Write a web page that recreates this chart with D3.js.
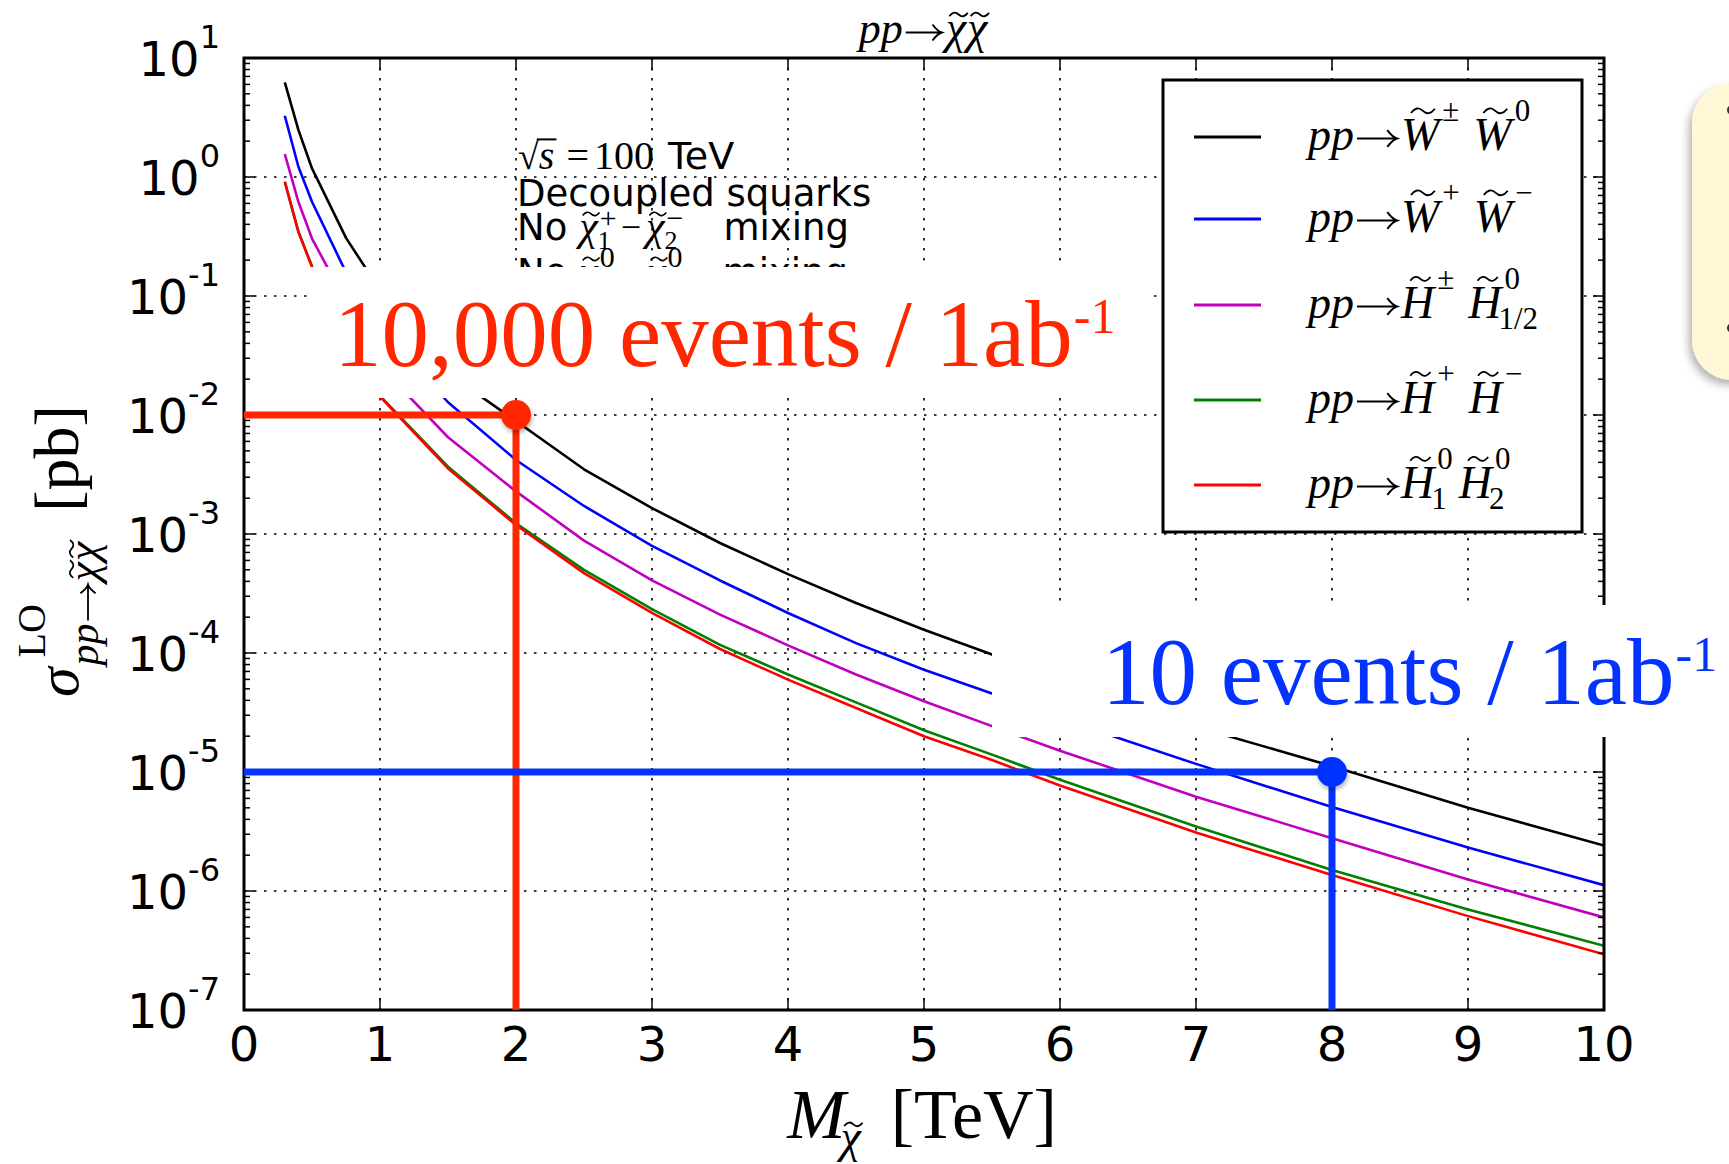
<!DOCTYPE html>
<html>
<head>
<meta charset="utf-8">
<script src="https://cdn.jsdelivr.net/npm/d3@7"></script>
<style>
  body { margin: 0; background: #fff; }
  text { white-space: pre; }
</style>
</head>
<body>
<div id="chart"></div>
<script>
// masses in TeV
const mass = [0.3, 0.4, 0.5, 0.75, 1, 1.5, 2, 2.5, 3, 3.5, 4, 4.5, 5, 5.5, 6, 7, 8, 9, 10];

// LO cross sections in pb
const winoPM0 = [6.24, 2.49, 1.18, 0.308, 0.112, 0.0224, 8.9e-3, 3.5e-3, 1.65e-3, 8.4e-4, 4.6e-4, 2.63e-4, 1.57e-4, 9.7e-5, 5.9e-5, 2.4e-5, 1.12e-5, 5.0e-6, 2.41e-6];
const winoPM = [3.27, 1.22, 0.619, 0.158, 0.056, 0.0128, 4.19e-3, 1.72e-3, 7.96e-4, 4.07e-4, 2.17e-4, 1.21e-4, 7.24e-5, 4.56e-5, 2.82e-5, 1.17e-5, 5.07e-6, 2.32e-6, 1.12e-6];
const higgsinoPM0 = [1.56, 0.619, 0.304, 0.089, 0.0257, 6.5e-3, 2.28e-3, 8.8e-4, 4.07e-4, 2.1e-4, 1.16e-4, 6.6e-5, 3.93e-5, 2.43e-5, 1.51e-5, 6.2e-6, 2.78e-6, 1.25e-6, 6.0e-7];
const higgsinoPM = [0.912, 0.347, 0.178, 0.0447, 0.0145, 3.68e-3, 1.23e-3, 5.0e-4, 2.34e-4, 1.17e-4, 6.6e-5, 3.85e-5, 2.24e-5, 1.4e-5, 8.6e-6, 3.48e-6, 1.5e-6, 7.0e-7, 3.46e-7];
const higgsino00 = [0.912, 0.346, 0.175, 0.0437, 0.0143, 3.56e-3, 1.19e-3, 4.69e-4, 2.17e-4, 1.08e-4, 5.97e-5, 3.45e-5, 2.0e-5, 1.26e-5, 7.7e-6, 3.1e-6, 1.36e-6, 6.15e-7, 2.94e-7];

const seriesColors = ["#000000", "#0000ff", "#bf00bf", "#008000", "#ff0000"];

// axis ticks
const xTicks = [0, 1, 2, 3, 4, 5, 6, 7, 8, 9, 10];
const yDecades = [1, 0, -1, -2, -3, -4, -5, -6, -7];
const yTickExp = ["1", "0", "-1", "-2", "-3", "-4", "-5", "-6", "-7"];

// event-count markers drawn over the plot
const markerMass = [2, 8];
const markerXsec = [1e-2, 1e-5];
const markerLabel = ["10,000 events / 1ab", "10 events / 1ab"];
const markerColor = ["#ff2600", "#0433ff"];

const W = 1729, H = 1164;
const SERIF = "'Liberation Serif', 'Times New Roman', serif";
const SANS = "'DejaVu Sans', sans-serif";

const svg = d3.select("#chart").append("svg")
    .attr("width", W).attr("height", H)
    .attr("viewBox", `0 0 ${W} ${H}`);

const defs = svg.append("defs");
defs.append("clipPath").attr("id", "plotclip")
    .append("rect").attr("x", 244).attr("y", 58).attr("width", 1360).attr("height", 952);
const sh = defs.append("filter").attr("id", "dotshadow")
    .attr("x", "-50%").attr("y", "-50%").attr("width", "200%").attr("height", "200%");
sh.append("feDropShadow").attr("dx", 1).attr("dy", 3).attr("stdDeviation", 2)
    .attr("flood-color", "#000").attr("flood-opacity", 0.3);
const boxShadow = defs.append("filter").attr("id", "boxshadow")
    .attr("x", "-20%").attr("y", "-20%").attr("width", "140%").attr("height", "140%");
boxShadow.append("feDropShadow").attr("dx", -3).attr("dy", 5).attr("stdDeviation", 4)
    .attr("flood-color", "#000").attr("flood-opacity", 0.3);

const x = d3.scaleLinear().domain([0, 10]).range([244, 1604]);
const y = d3.scaleLog().domain([1e-7, 10]).range([1010, 58]);

// small helper to lay out math-ish text: base glyphs, super/subscripts, tildes, arrows
function mathLine(parent, px, py, parts, anchor) {
    const g = parent.append("g");
    let baseEnd = 0, lastEnd = 0, maxEnd = 0;
    parts.forEach(p => {
        let sx;
        if (p.script) sx = baseEnd + (p.gap || 0);
        else if (p.cont) sx = lastEnd + (p.gap || 0);
        else sx = maxEnd + (p.gap || 0);
        const dy = p.dy || 0;
        const col = p.fill || "#000";
        let w;
        if (p.arrow) {
            // long thin math arrow, drawn as a path
            w = p.arrow;
            const ay = dy - p.sz * 0.25, e = sx + w - 1;
            g.append("path")
                .attr("d", `M${sx + 1},${ay} H${e} M${e - p.sz * 0.22},${ay - p.sz * 0.19} Q${e - p.sz * 0.1},${ay - p.sz * 0.03} ${e},${ay} Q${e - p.sz * 0.1},${ay + p.sz * 0.03} ${e - p.sz * 0.22},${ay + p.sz * 0.19}`)
                .attr("fill", "none").attr("stroke", col).attr("stroke-width", p.sz * 0.045);
        } else {
            const t = g.append("text")
                .attr("x", sx).attr("y", dy)
                .attr("font-family", p.ff || SERIF)
                .attr("font-style", p.it ? "italic" : "normal")
                .attr("font-size", p.sz)
                .attr("fill", col)
                .text(p.t);
            w = t.node().getComputedTextLength();
        }
        if (p.tilde) {
            const cx = sx + w / 2 + (p.it ? p.sz * 0.06 : 0);
            const cy = dy - p.sz * p.tilde;
            const a = p.sz * (p.tw || 0.22), h = a * 0.3;
            g.append("path")
                .attr("d", `M${cx - a},${cy + h * 0.6} Q${cx - a / 2},${cy - h * 1.6} ${cx},${cy} T${cx + a},${cy - h * 0.6}`)
                .attr("fill", "none").attr("stroke", col)
                .attr("stroke-width", p.sz * 0.04);
        }
        if (p.over) {
            g.append("line")
                .attr("x1", sx - p.sz * 0.05).attr("x2", sx + w + p.sz * 0.05)
                .attr("y1", dy - p.sz * 0.74).attr("y2", dy - p.sz * 0.74)
                .attr("stroke", col).attr("stroke-width", p.sz * 0.05);
        }
        if (!p.script && !p.cont) baseEnd = sx + w;
        lastEnd = sx + w;
        maxEnd = Math.max(maxEnd, sx + w);
    });
    const shift = anchor === "middle" ? -maxEnd / 2 : anchor === "end" ? -maxEnd : 0;
    g.attr("transform", `translate(${px + shift},${py})`);
    return g;
}

// grid
const grid = svg.append("g");
xTicks.slice(1, -1).forEach(t => {
    grid.append("line")
        .attr("x1", x(t)).attr("x2", x(t)).attr("y1", 58).attr("y2", 1010)
        .attr("stroke", "#000").attr("stroke-width", 1.6).attr("stroke-dasharray", "2.5 7.5");
});
yDecades.slice(1, -1).forEach(e => {
    grid.append("line")
        .attr("x1", 244).attr("x2", 1604).attr("y1", y(Math.pow(10, e))).attr("y2", y(Math.pow(10, e)))
        .attr("stroke", "#000").attr("stroke-width", 1.6).attr("stroke-dasharray", "2.5 7.5");
});

// curves
const allSeries = [winoPM0, winoPM, higgsinoPM0, higgsinoPM, higgsino00];
const line = d3.line().x((d, i) => x(mass[i])).y(d => y(d));
const curves = svg.append("g").attr("clip-path", "url(#plotclip)");
allSeries.forEach((s, k) => {
    curves.append("path").datum(s)
        .attr("d", line)
        .attr("fill", "none")
        .attr("stroke", seriesColors[k])
        .attr("stroke-width", 2.6)
        .attr("stroke-linejoin", "round");
});

// text block inside the plot
const ann = svg.append("g");
mathLine(ann, 518, 169, [
    { t: "√", sz: 38 },
    { t: "s", it: true, sz: 40, over: true, gap: 0 },
    { t: "=", sz: 40, gap: 12 },
    { t: "100", sz: 40, gap: 5 },
    { t: "TeV", sz: 38, ff: SANS, gap: 14 }
]);
mathLine(ann, 517, 206, [{ t: "Decoupled squarks", sz: 37, ff: SANS }]);
mathLine(ann, 517, 240, [
    { t: "No", sz: 37, ff: SANS },
    { t: "χ", it: true, sz: 42, tilde: 0.62, tw: 0.2, gap: 12 },
    { t: "+", sz: 30, script: true, dy: -12, gap: 2 },
    { t: "1", sz: 26, script: true, dy: 9, gap: 0 },
    { t: "−", sz: 36, gap: 4, dy: -1 },
    { t: "χ", it: true, sz: 42, tilde: 0.62, tw: 0.2, gap: 5 },
    { t: "−", sz: 30, script: true, dy: -12, gap: 2 },
    { t: "2", sz: 26, script: true, dy: 9, gap: 0 },
    { t: "mixing", sz: 37, ff: SANS, gap: 40 }
]);
mathLine(ann, 517, 285, [
    { t: "No", sz: 37, ff: SANS },
    { t: "χ", it: true, sz: 42, tilde: 0.62, tw: 0.2, gap: 12 },
    { t: "0", sz: 30, script: true, dy: -18, gap: 2 },
    { t: "1", sz: 26, script: true, dy: 9, gap: 0 },
    { t: "−", sz: 36, gap: 6, dy: -1 },
    { t: "χ", it: true, sz: 42, tilde: 0.62, tw: 0.2, gap: 6 },
    { t: "0", sz: 30, script: true, dy: -18, gap: 2 },
    { t: "2", sz: 26, script: true, dy: 9, gap: 0 },
    { t: "mixing", sz: 37, ff: SANS, gap: 40 }
]);

// spines and ticks
const axes = svg.append("g");
axes.append("rect").attr("x", 244).attr("y", 58).attr("width", 1360).attr("height", 952)
    .attr("fill", "none").attr("stroke", "#000").attr("stroke-width", 3);
xTicks.forEach(t => {
    axes.append("line").attr("x1", x(t)).attr("x2", x(t)).attr("y1", 1010).attr("y2", 998)
        .attr("stroke", "#000").attr("stroke-width", 1.5);
    axes.append("line").attr("x1", x(t)).attr("x2", x(t)).attr("y1", 58).attr("y2", 70)
        .attr("stroke", "#000").attr("stroke-width", 1.5);
});
yDecades.forEach((e, i) => {
    const v = Math.pow(10, e);
    [[244, 255], [1604, 1593]].forEach(([a, b]) => {
        axes.append("line").attr("x1", a).attr("x2", b).attr("y1", y(v)).attr("y2", y(v))
            .attr("stroke", "#000").attr("stroke-width", 1.5);
    });
    if (e > -7) {
        for (let m = 2; m <= 9; m++) {
            const mv = m * Math.pow(10, e - 1);
            [[244, 250], [1604, 1598]].forEach(([a, b]) => {
                axes.append("line").attr("x1", a).attr("x2", b).attr("y1", y(mv)).attr("y2", y(mv))
                    .attr("stroke", "#000").attr("stroke-width", 1.5);
            });
        }
    }
});

// legend
const legendY = [137, 219, 305, 400, 485];
const leg = svg.append("g");
leg.append("rect").attr("x", 1163).attr("y", 80).attr("width", 419).attr("height", 452)
    .attr("fill", "#fff").attr("stroke", "#000").attr("stroke-width", 3);
const legendParts = [
    [{ t: "W", it: true, tilde: 0.84, tw: 0.26 }, { t: "±", sup: true }, { t: "W", it: true, tilde: 0.84, tw: 0.26, gap: 14 }, { t: "0", sup: true }],
    [{ t: "W", it: true, tilde: 0.84, tw: 0.26 }, { t: "+", sup: true }, { t: "W", it: true, tilde: 0.84, tw: 0.26, gap: 14 }, { t: "−", sup: true }],
    [{ t: "H", it: true, tilde: 0.84, tw: 0.22 }, { t: "±", sup: true }, { t: "H", it: true, tilde: 0.84, tw: 0.22, gap: 14 }, { t: "0", sup: true }, { t: "1/2", sub: true }],
    [{ t: "H", it: true, tilde: 0.84, tw: 0.22 }, { t: "+", sup: true }, { t: "H", it: true, tilde: 0.84, tw: 0.22, gap: 14 }, { t: "−", sup: true }],
    [{ t: "H", it: true, tilde: 0.84, tw: 0.22 }, { t: "0", sup: true }, { t: "1", sub: true }, { t: "H", it: true, tilde: 0.84, tw: 0.22, gap: 6 }, { t: "0", sup: true }, { t: "2", sub: true }]
];
legendY.forEach((ly, k) => {
    leg.append("line").attr("x1", 1194).attr("x2", 1261).attr("y1", ly).attr("y2", ly)
        .attr("stroke", seriesColors[k]).attr("stroke-width", 2.8);
    const parts = [{ t: "pp", it: true, sz: 46 }, { arrow: 42, sz: 44, gap: 2 }];
    legendParts[k].forEach(p => {
        if (p.sup) parts.push({ t: p.t, sz: 31, script: true, dy: -29, gap: 3 });
        else if (p.sub) parts.push({ t: p.t, sz: 31, script: true, dy: 11, gap: -3 });
        else parts.push({ t: p.t, it: true, sz: 46, tilde: p.tilde, tw: p.tw, gap: p.gap || 3 });
    });
    mathLine(leg, 1308, ly + 12.5, parts);
});

// white boxes behind the overlay labels
svg.append("rect").attr("x", 310).attr("y", 267).attr("width", 842).attr("height", 131).attr("fill", "#fff");
svg.append("rect").attr("x", 992).attr("y", 605).attr("width", 737).attr("height", 132).attr("fill", "#fff");

// event-count guide lines, dots and labels
const labelPos = [[334, 366], [1102, 704]];
markerMass.forEach((m, i) => {
    const g = svg.append("g");
    g.append("line").attr("x1", x(0)).attr("x2", x(m)).attr("y1", y(markerXsec[i])).attr("y2", y(markerXsec[i]))
        .attr("stroke", markerColor[i]).attr("stroke-width", 7);
    g.append("line").attr("x1", x(m)).attr("x2", x(m)).attr("y1", y(markerXsec[i])).attr("y2", y(1e-7))
        .attr("stroke", markerColor[i]).attr("stroke-width", 7);
    g.append("circle").attr("cx", x(m)).attr("cy", y(markerXsec[i])).attr("r", 15)
        .attr("fill", markerColor[i]).attr("filter", "url(#dotshadow)");
    mathLine(svg, labelPos[i][0], labelPos[i][1], [
        { t: markerLabel[i], sz: 95, fill: markerColor[i] },
        { t: "-1", sz: 50, script: true, dy: -33, gap: 1, fill: markerColor[i] }
    ]);
});

// tick labels
const tl = svg.append("g").attr("font-family", SANS).attr("fill", "#000");
xTicks.forEach(t => {
    tl.append("text").attr("x", x(t)).attr("y", 1061).attr("text-anchor", "middle")
        .attr("font-size", 48).text(t);
});
yDecades.forEach((e, i) => {
    const tx = tl.append("text").attr("x", 220).attr("y", y(Math.pow(10, e)) + 18)
        .attr("text-anchor", "end").attr("font-size", 48);
    tx.append("tspan").text("10");
    tx.append("tspan").attr("dy", -28).attr("font-size", 32).text(yTickExp[i]);
});

// axis labels and title
mathLine(svg, 922, 1138, [
    { t: "M", it: true, sz: 70 },
    { t: "χ", it: true, sz: 46, script: true, dy: 14, gap: -5, tilde: 0.6, tw: 0.2 },
    { t: "[TeV]", sz: 70, gap: 30 }
], "middle");

const ylab = svg.append("g").attr("transform", "translate(78,697) rotate(-90)");
mathLine(ylab, 0, 0, [
    { t: "σ", it: true, sz: 60 },
    { t: "LO", sz: 40, script: true, dy: -33, gap: 10 },
    { t: "pp", it: true, sz: 42, script: true, dy: 20, gap: 2 },
    { arrow: 38, sz: 40, cont: true, dy: 20, gap: 2 },
    { t: "χ", it: true, sz: 44, cont: true, dy: 20, gap: 2, tilde: 0.6, tw: 0.2 },
    { t: "χ", it: true, sz: 44, cont: true, dy: 20, gap: 1, tilde: 0.6, tw: 0.2 },
    { t: "[pb]", sz: 64, gap: 30 }
]);

mathLine(svg, 923, 43, [
    { t: "pp", it: true, sz: 44 },
    { arrow: 38, sz: 42, gap: 2 },
    { t: "χ", it: true, sz: 46, tilde: 0.62, tw: 0.2, gap: 3 },
    { t: "χ", it: true, sz: 46, tilde: 0.62, tw: 0.2, gap: 1 }
], "middle");

// cut-off note box at the right edge of the slide
const note = svg.append("g");
note.append("rect").attr("x", 1692).attr("y", 83).attr("width", 120).attr("height", 297).attr("rx", 40)
    .attr("fill", "#fff7d6").attr("filter", "url(#boxshadow)");
note.append("circle").attr("cx", 1732).attr("cy", 110).attr("r", 5).attr("fill", "#333");
note.append("circle").attr("cx", 1732).attr("cy", 328).attr("r", 5).attr("fill", "#333");
</script>
</body>
</html>
